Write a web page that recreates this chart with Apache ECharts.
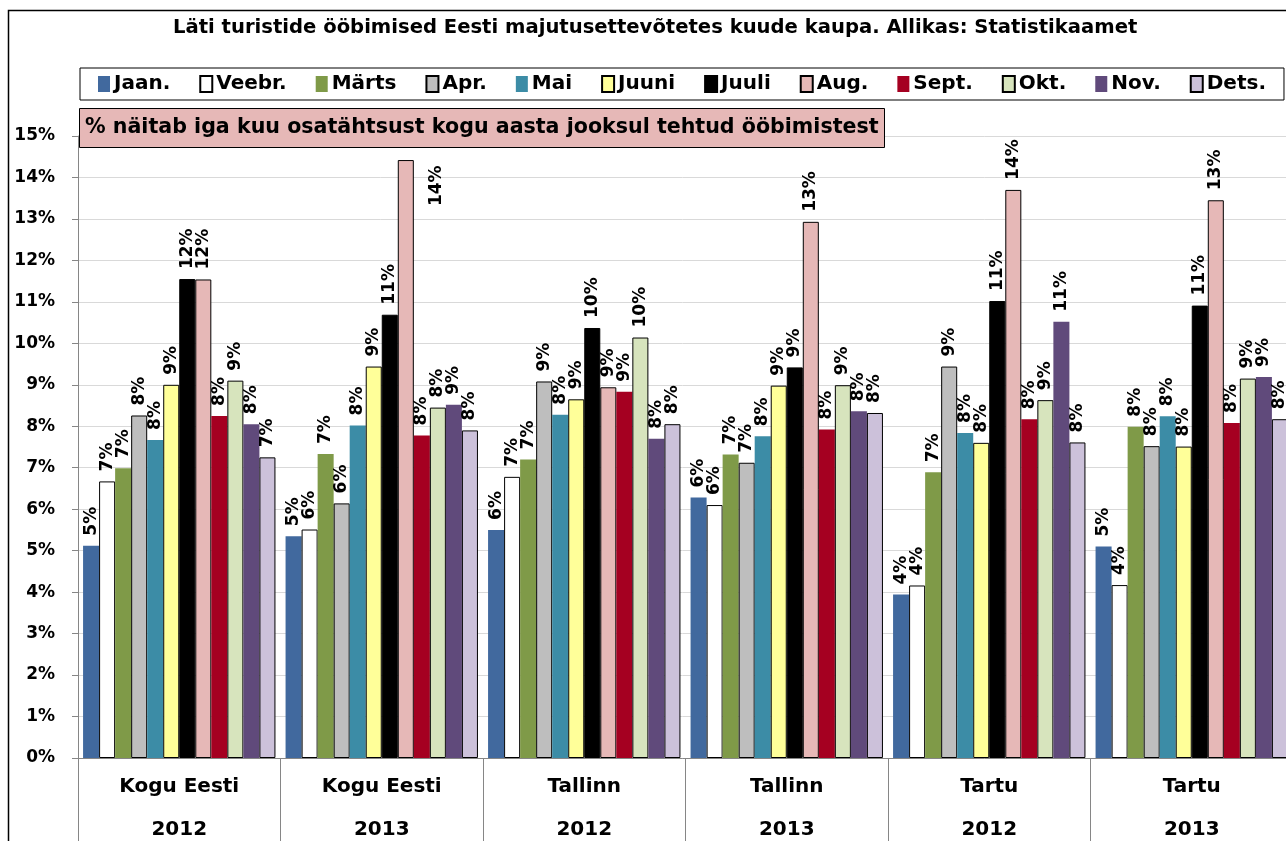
<!DOCTYPE html>
<html>
<head>
<meta charset="utf-8">
<title>Läti turistide ööbimised</title>
<script src="https://cdn.jsdelivr.net/npm/echarts@6/dist/echarts.min.js"></script>
<style>
  html, body { margin: 0; padding: 0; background: #fff; }
  #chart { width: 1286px; height: 841px; }
</style>
</head>
<body>
<div id="chart"></div>
<script>
// months = series, place/year = categories
const months = ['Jaan.', 'Veebr.', 'Märts', 'Apr.', 'Mai', 'Juuni', 'Juuli', 'Aug.', 'Sept.', 'Okt.', 'Nov.', 'Dets.'];
const places = ['Kogu Eesti', 'Kogu Eesti', 'Tallinn', 'Tallinn', 'Tartu', 'Tartu'];
const years = ['2012', '2013', '2012', '2013', '2012', '2013'];

// share of the year's overnight stays, %, one value per month
const koguEesti2012 = [5.12, 6.67, 6.99, 8.26, 7.67, 9.0, 11.55, 11.54, 8.25, 9.1, 8.05, 7.25];
const koguEesti2013 = [5.35, 5.51, 7.33, 6.14, 8.02, 9.44, 10.69, 14.42, 7.78, 8.45, 8.52, 7.9];
const tallinn2012 = [5.5, 6.78, 7.2, 9.08, 8.28, 8.65, 10.37, 8.94, 8.83, 10.14, 7.7, 8.05];
const tallinn2013 = [6.28, 6.1, 7.32, 7.12, 7.76, 8.98, 9.42, 12.93, 7.92, 8.99, 8.36, 8.32];
const tartu2012 = [3.94, 4.16, 6.89, 9.44, 7.84, 7.6, 11.02, 13.7, 8.17, 8.63, 10.52, 7.61];
const tartu2013 = [5.1, 4.17, 7.99, 7.52, 8.24, 7.51, 10.91, 13.45, 8.08, 9.15, 9.19, 8.17];

const groups = [koguEesti2012, koguEesti2013, tallinn2012, tallinn2013, tartu2012, tartu2013];

const colors = ['#41699E', '#FFFFFF', '#7F9A48', '#BEBEBE', '#3C8CA6', '#FFFF99',
  '#000000', '#E6B8B7', '#A50021', '#D7E4BD', '#604A7B', '#CCC1DA'];
const outlined = [false, true, false, true, false, true, true, true, false, true, false, true];

const FONT = 'DejaVu Sans';

const chart = echarts.init(document.getElementById('chart'));

const series = months.map((m, i) => ({
  name: m,
  type: 'bar',
  barGap: '0%',
  barCategoryGap: '5%',
  itemStyle: {
    color: colors[i],
    borderColor: outlined[i] ? '#000' : colors[i],
    borderWidth: outlined[i] ? 1 : 0
  },
  label: {
    show: true,
    position: 'top',
    rotate: 90,
    align: 'left',
    verticalAlign: 'middle',
    distance: 10,
    fontFamily: FONT,
    fontWeight: 'bold',
    fontSize: 17,
    color: '#000',
    formatter: p => Math.round(p.value) + '%'
  },
  data: groups.map((g, gi) => {
    // the tallest label is pushed beside its bar, as in the source
    if (i === 7 && gi === 1) return { value: g[i], label: { offset: [-56, 31] } };
    return g[i];
  })
}));

chart.setOption({
  animation: false,
  backgroundColor: '#fff',
  title: [{
    text: 'Läti turistide ööbimised Eesti majutusettevõtetes kuude kaupa. Allikas: Statistikaamet',
    left: 173,
    top: 18,
    padding: 0,
    textStyle: { fontFamily: FONT, fontWeight: 'bold', fontSize: 19.6, color: '#000' }
  }, {
    text: '% näitab iga kuu osatähtsust kogu aasta jooksul tehtud ööbimistest',
    left: 79,
    top: 108,
    padding: [8, 6],
    backgroundColor: '#E6B8B7',
    borderColor: '#000',
    borderWidth: 1,
    textStyle: { fontFamily: FONT, fontWeight: 'bold', fontSize: 20.6, lineHeight: 24, color: '#000' }
  }],
  legend: {
    data: months,
    left: 80,
    top: 68,
    width: 1190,
    padding: [6, 18],
    itemGap: 29,
    itemWidth: 12,
    itemHeight: 16,
    icon: 'rect',
    borderColor: '#000',
    borderWidth: 1,
    textStyle: { fontFamily: FONT, fontWeight: 'bold', fontSize: 20, color: '#000', padding: [0, 0, 0, -1] }
  },
  grid: { left: 78, top: 136, width: 1215, height: 622, outerBoundsMode: 'none' },
  xAxis: {
    type: 'category',
    data: places.map((p, i) => p + '\n' + years[i]),
    axisLine: { lineStyle: { color: '#868686' } },
    axisTick: { show: true, length: 90, interval: 0, lineStyle: { color: '#868686' } },
    axisLabel: {
      interval: 0, margin: 7, lineHeight: 43,
      fontFamily: FONT, fontWeight: 'bold', fontSize: 20, color: '#000'
    }
  },
  yAxis: {
    type: 'value',
    min: 0, max: 15, interval: 1,
    axisLine: { show: true, lineStyle: { color: '#868686' } },
    axisTick: { show: true, length: 6, lineStyle: { color: '#868686' } },
    splitLine: { lineStyle: { color: '#D9D9D9', width: 1 } },
    axisLabel: {
      formatter: '{value}%', margin: 23,
      fontFamily: FONT, fontWeight: 'bold', fontSize: 17, color: '#000'
    }
  },
  graphic: [{
    type: 'rect', silent: true, z: 100,
    shape: { x: 8.5, y: 10.5, width: 1400, height: 1000 },
    style: { fill: 'none', stroke: '#000', lineWidth: 1.5 }
  }],
  series: series
});
</script>
</body>
</html>
